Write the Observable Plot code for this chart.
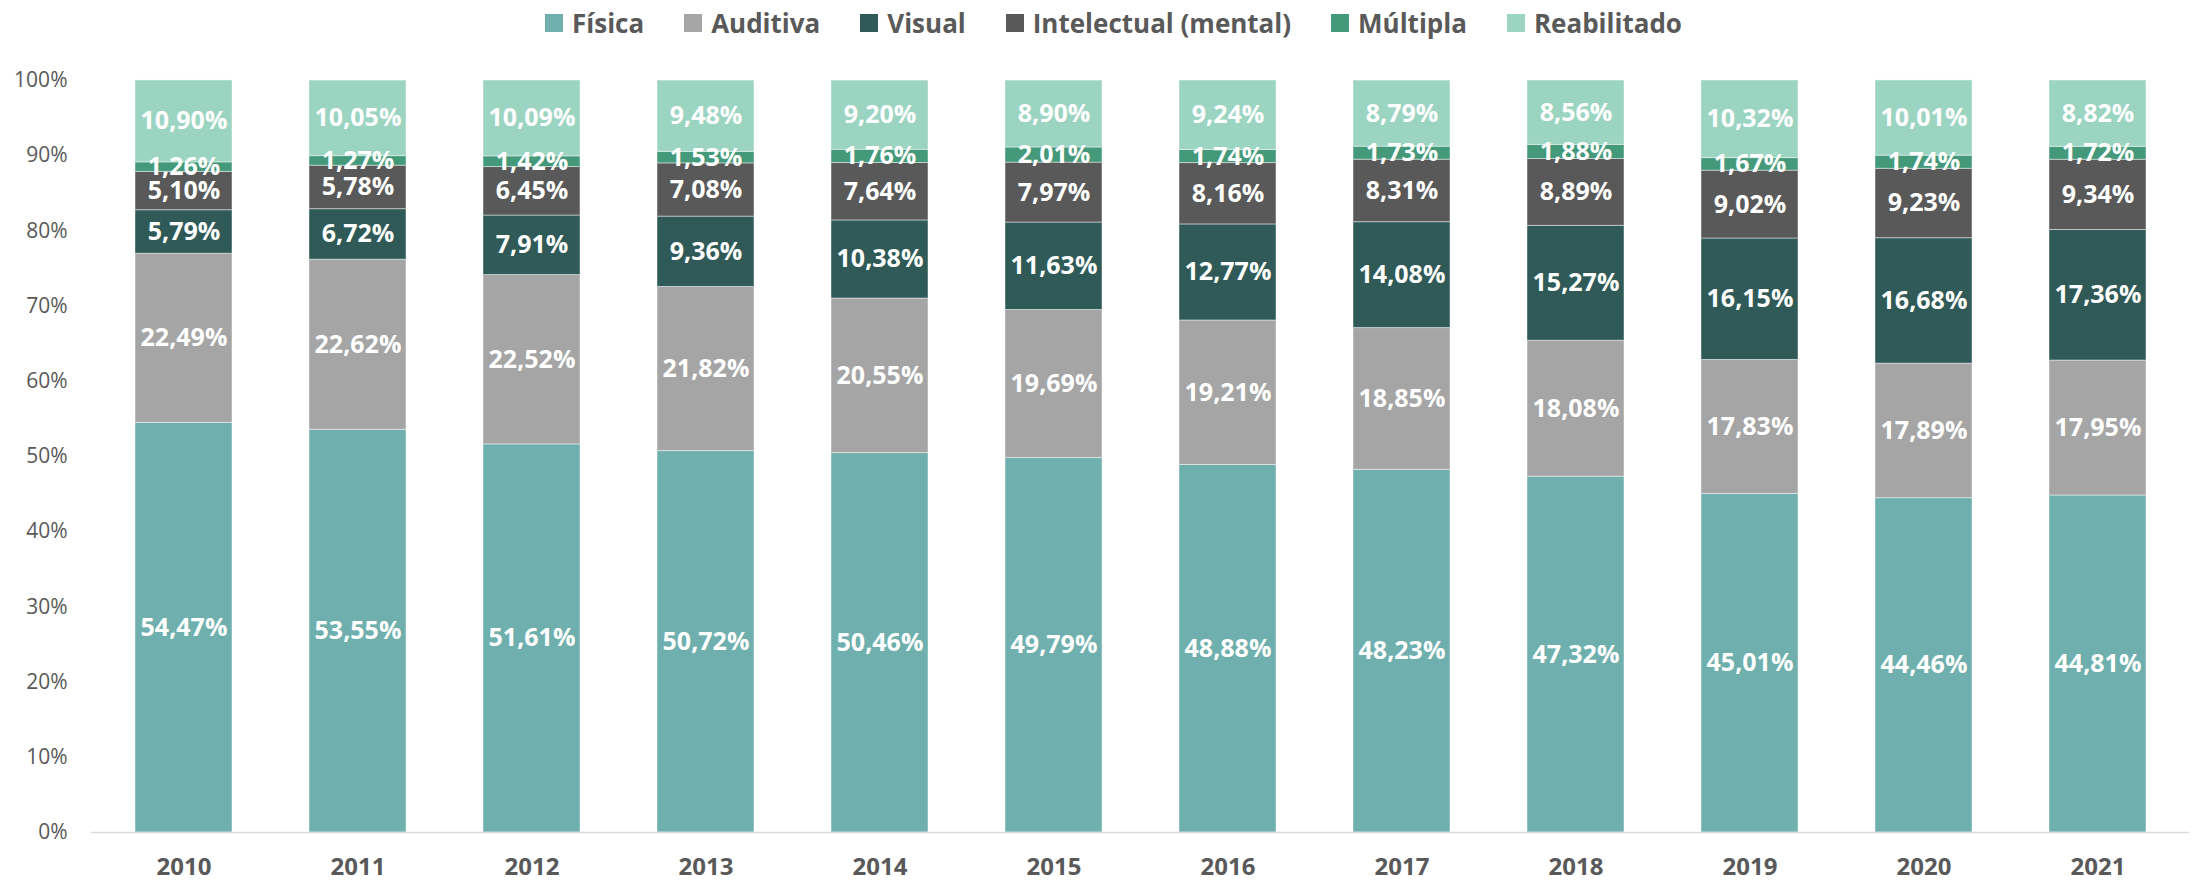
<!DOCTYPE html>
<html><head><meta charset="utf-8">
<script src="https://cdn.jsdelivr.net/npm/d3@7"></script>
<script src="https://cdn.jsdelivr.net/npm/@observablehq/plot@0.6"></script>
<style>
body{margin:0;background:#fff;font-family:"Open Sans",sans-serif;}
#wrap{position:relative;width:2197px;height:881px;overflow:hidden;}
#legend{position:absolute;left:545px;top:14px;display:flex;align-items:center;height:18px;}
.item{display:flex;align-items:center;margin-right:40px;}
.sw{width:18px;height:18px;margin-right:9px;flex:none;}
.lab{font-weight:700;font-size:26px;color:#595959;white-space:nowrap;}
#chart{position:absolute;left:0;top:50px;}
</style></head>
<body><div id="wrap"><div id="legend"></div><div id="chart"></div></div>
<script>
const years = ["2010","2011","2012","2013","2014","2015","2016","2017","2018","2019","2020","2021"];
const categories = ["Física","Auditiva","Visual","Intelectual (mental)","Múltipla","Reabilitado"];
const colors = ["#6FB0AE","#A5A5A5","#2F5A57","#595959","#43997A","#9CD4C2"];
const fisica      = [54.47,53.55,51.61,50.72,50.46,49.79,48.88,48.23,47.32,45.01,44.46,44.81];
const auditiva    = [22.49,22.62,22.52,21.82,20.55,19.69,19.21,18.85,18.08,17.83,17.89,17.95];
const visual      = [5.79,6.72,7.91,9.36,10.38,11.63,12.77,14.08,15.27,16.15,16.68,17.36];
const intelectual = [5.10,5.78,6.45,7.08,7.64,7.97,8.16,8.31,8.89,9.02,9.23,9.34];
const multipla    = [1.26,1.27,1.42,1.53,1.76,2.01,1.74,1.73,1.88,1.67,1.74,1.72];
const reabilitado = [10.90,10.05,10.09,9.48,9.20,8.90,9.24,8.79,8.56,10.32,10.01,8.82];
const yTicks = [0,10,20,30,40,50,60,70,80,90,100];

const series = [fisica, auditiva, visual, intelectual, multipla, reabilitado];
const rows = [];
years.forEach((yr, i) => {
  let acc = 0;
  series.forEach((s, k) => {
    const v = s[i];
    rows.push({year: yr, cat: categories[k], y1: acc, y2: acc + v, mid: acc + v / 2,
      label: v.toFixed(2).replace(".", ",") + "%"});
    acc += v;
  });
});

// legend
const leg = document.getElementById("legend");
categories.forEach((c, k) => {
  const it = document.createElement("div"); it.className = "item";
  const sw = document.createElement("div"); sw.className = "sw"; sw.style.background = colors[k];
  const lb = document.createElement("span"); lb.className = "lab"; lb.textContent = c;
  it.appendChild(sw); it.appendChild(lb); leg.appendChild(it);
});

const chart = Plot.plot({
  width: 2197, height: 831,
  marginTop: 30, marginBottom: 49, marginLeft: 91, marginRight: 8,
  style: {fontFamily: "'Open Sans', sans-serif", background: "transparent"},
  x: {domain: years, paddingInner: 0.445, paddingOuter: 0.2225, label: null},
  y: {domain: [0, 100], label: null},
  color: {domain: categories, range: colors},
  marks: [
    Plot.barY(rows, {x: "year", y1: "y1", y2: "y2", fill: "cat", stroke: "white", strokeOpacity: 0.45, strokeWidth: 1}),
    Plot.ruleY([0], {stroke: "#D9D9D9", strokeWidth: 1.5}),
    Plot.text(rows, {x: "year", y: "mid", text: "label", fill: "white", fontWeight: 700, fontSize: 25}),
    Plot.axisX({tickSize: 0, tickPadding: 25, fontSize: 24, fontWeight: 700, color: "#595959", label: null}),
    Plot.axisY({ticks: yTicks, tickFormat: d => d + "%", tickSize: 0, tickPadding: 24, fontSize: 21, color: "#595959", label: null})
  ]
});
document.getElementById("chart").appendChild(chart);
</script>
</body></html>
